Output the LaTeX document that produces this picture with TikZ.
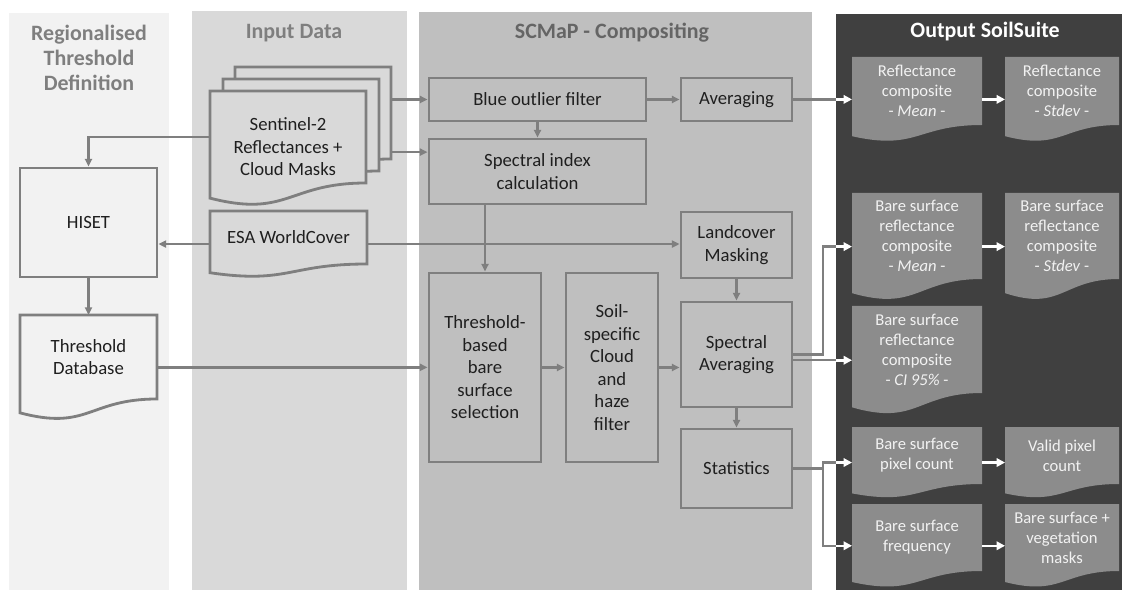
\documentclass[tikz,border=0pt]{standalone}
\usepackage{fontspec}
\setmainfont{Carlito}
\usetikzlibrary{arrows.meta,calc}

\definecolor{colA}{HTML}{F2F2F2}
\definecolor{colB}{HTML}{D9D9D9}
\definecolor{colC}{HTML}{BFBFBF}
\definecolor{colD}{HTML}{404040}
\definecolor{lnk}{HTML}{7F7F7F}
\definecolor{outfill}{HTML}{8C8C8C}
\definecolor{outtext}{HTML}{F2F2F2}
\definecolor{txt}{HTML}{1F1F1F}

\pgfdeclarelayer{bg}
\pgfdeclarelayer{shapes}
\pgfsetlayers{bg,shapes,main}

\tikzset{
  box/.style={draw=lnk, line width=2pt, text=txt, align=center, inner sep=2pt,
    font=\fontsize{13.3}{16}\selectfont},
  doc/.style={text=txt, align=center, inner sep=2pt, outer sep=0pt,
    font=\fontsize{13.3}{16}\selectfont},
  outdoc/.style={doc, text=outtext, font=\fontsize{11.8}{14.2}\selectfont},
  heading/.style={text=lnk, align=center, font=\bfseries\fontsize{15.6}{17.8}\selectfont},
  wh/.style 2 args={minimum width=#1*0.025cm, minimum height=#2*0.025cm},
  flow/.style={draw=lnk, line width=1.7pt, -{Triangle[length=5.5pt,width=5pt]}},
  link/.style={draw=lnk, line width=1.7pt},
  wflow/.style={draw=white, line width=1.8pt, -{Triangle[length=6pt,width=6pt]}},
}

\begin{document}
\begin{tikzpicture}[x=0.025cm, y=-0.025cm]
  \useasboundingbox (0,0) rectangle (1125,590);

  % lanes
  \begin{pgfonlayer}{bg}
    \fill[colA] (9,13) rectangle (169,590);
    \fill[colB] (192,11) rectangle (407,590);
    \fill[colC] (419,12) rectangle (812,590);
    \fill[colD] (836,14) rectangle (1122,590);
  \end{pgfonlayer}
  \coordinate (outedge) at (836,0);
  \coordinate (fork) at (823,0);

  \node[heading] (tA) at (89,58) {Regionalised\\Threshold\\Definition};
  \node[heading] (tB) at (294,33) {Input Data};
  \node[heading, text=lnk!80!black] (tC) at (612,33) {SCMaP - Compositing};
  \node[heading, text=white] (tD) at (985,32) {Output SoilSuite};

  % threshold definition
  \node[box, wh={137}{109}] (hiset) at (88.5,222.5) {HISET};
  \node[doc, wh={137}{84}] (tdb) at (88.5,357) {Threshold\\Database};

  % input data
  \node[doc, wh={156}{92}] (s2c) at (313,113) {};
  \node[doc, wh={156}{92}] (s2b) at (301,125) {};
  \node[doc, wh={156}{92}] (s2a) at (288,137) {};
  \node[doc] (s2) at (288,147) {Sentinel-2\\Reflectances +\\Cloud Masks};
  \node[doc, wh={157}{53}] (esa) at (288.5,237.5) {ESA WorldCover};

  % compositing
  \node[box, wh={217}{43}] (blue) at (537.5,99.5) {Blue outlier filter};
  \node[box, wh={111}{43}] (avg) at (736.5,99.5) {Averaging};
  \node[box, wh={217}{65}] (spi) at (537.5,171.5) {Spectral index\\calculation};
  \node[box, wh={111}{66}] (lcm) at (736.5,245) {Landcover\\Masking};
  \node[box, wh={112}{189}] (thr) at (485,367.5) {Threshold-\\based\\bare\\surface\\selection};
  \node[box, wh={92}{189}] (soil) at (612,367.5) {Soil-\\specific\\Cloud\\and\\haze\\filter};
  \node[box, wh={111}{105}] (spa) at (736.5,354.5) {Spectral\\Averaging};
  \node[box, wh={111}{79}] (stat) at (736.5,468.5) {Statistics};

  % output
  \node[outdoc, wh={130}{68}] (rmean) at (917,91) {Reflectance\\composite\\- \textit{Mean} -};
  \node[outdoc, wh={114}{68}] (rsd) at (1062,91) {Reflectance\\composite\\- \textit{Stdev} -};
  \node[outdoc, wh={130}{86}] (bmean) at (917,236) {Bare surface\\reflectance\\composite\\- \textit{Mean} -};
  \node[outdoc, wh={114}{86}] (bsd) at (1062,236) {Bare surface\\reflectance\\composite\\- \textit{Stdev} -};
  \node[outdoc, wh={130}{87}] (bci) at (917,349.5) {Bare surface\\reflectance\\composite\\- \textit{CI 95\%} -};
  \node[outdoc, wh={130}{57}] (bpix) at (917,455.5) {Bare surface\\pixel count};
  \node[outdoc, wh={114}{57}] (vpix) at (1062,455.5) {Valid pixel\\count};
  \node[outdoc, wh={130}{67}] (bfreq) at (917,537.5) {Bare surface\\frequency};
  \node[outdoc, wh={114}{67}] (bveg) at (1062,537.5) {Bare surface +\\vegetation\\masks};

  % connection points of the documents
  \foreach \n in {tdb,esa,rmean,rsd,bmean,bsd,bci,bpix,vpix,bfreq,bveg} {
    \coordinate (\n-w) at ($(\n.north west)!.6234!(\n.south west)$);
    \coordinate (\n-e) at ($(\n.north east)!.6234!(\n.south east)$);
  }

  % document outlines
  \begin{pgfonlayer}{shapes}
    \foreach \n/\col in {s2c/colB,s2b/colB,s2a/colB,esa/colB,tdb/colA}
      \filldraw[fill=\col, draw=lnk, line width=2pt] (\n.north west) -- (\n.north east) -- (\n.south east)
        .. controls (\n.south) and ($(\n.south)!-0.381!(\n.north)$) .. ($(\n.south west)!-0.1646!(\n.north west)$) -- cycle;
    \foreach \n in {rmean,rsd,bmean,bsd,bci,bpix,vpix,bfreq,bveg}
      \fill[outfill] (\n.north west) -- (\n.north east) -- (\n.south east)
        .. controls (\n.south) and ($(\n.south)!-0.381!(\n.north)$) .. ($(\n.south west)!-0.1646!(\n.north west)$) -- cycle;
  \end{pgfonlayer}

  % flows
  \draw[flow] (s2c.east |- blue) -- (blue);
  \draw[flow] (s2c.east |- spi.170) -- (spi.170);
  \draw[flow] (s2a.west) -| (hiset.north);
  \draw[flow] (esa-w) -- (hiset.east |- esa-w);
  \draw[flow] (esa-e) -- (lcm.west |- esa-e);
  \draw[flow] (hiset) -- (tdb);
  \draw[flow] (tdb-e) -- (thr.west |- tdb-e);
  \draw[flow] (blue) -- (avg);
  \draw[flow] (blue) -- (spi);
  \draw[flow] (spi.south -| thr) -- (thr);
  \draw[flow] (thr) -- (soil);
  \draw[flow] (soil) -- (soil -| spa.west);
  \draw[flow] (lcm) -- (spa);
  \draw[flow] (spa) -- (stat);

  % to the outputs
  \draw[link] (avg.east |- rmean-w) -- (outedge |- rmean-w);
  \draw[wflow] (outedge |- rmean-w) -- (rmean-w);
  \draw[link] (spa.east) -| (fork |- bmean-w) -- (outedge |- bmean-w);
  \draw[wflow] (outedge |- bmean-w) -- (bmean-w);
  \draw[link] (spa.east |- bci-w) -- (outedge |- bci-w);
  \draw[wflow] (outedge |- bci-w) -- (bci-w);
  \draw[link] (stat.east) -- (fork |- stat.east);
  \draw[link] (outedge |- bpix-w) -| (fork |- bfreq-w) -- (outedge |- bfreq-w);
  \draw[wflow] (outedge |- bpix-w) -- (bpix-w);
  \draw[wflow] (outedge |- bfreq-w) -- (bfreq-w);
  \draw[wflow] (rmean-e) -- (rsd-w);
  \draw[wflow] (bmean-e) -- (bsd-w);
  \draw[wflow] (bpix-e) -- (vpix-w);
  \draw[wflow] (bfreq-e) -- (bveg-w);
\end{tikzpicture}
\end{document}
